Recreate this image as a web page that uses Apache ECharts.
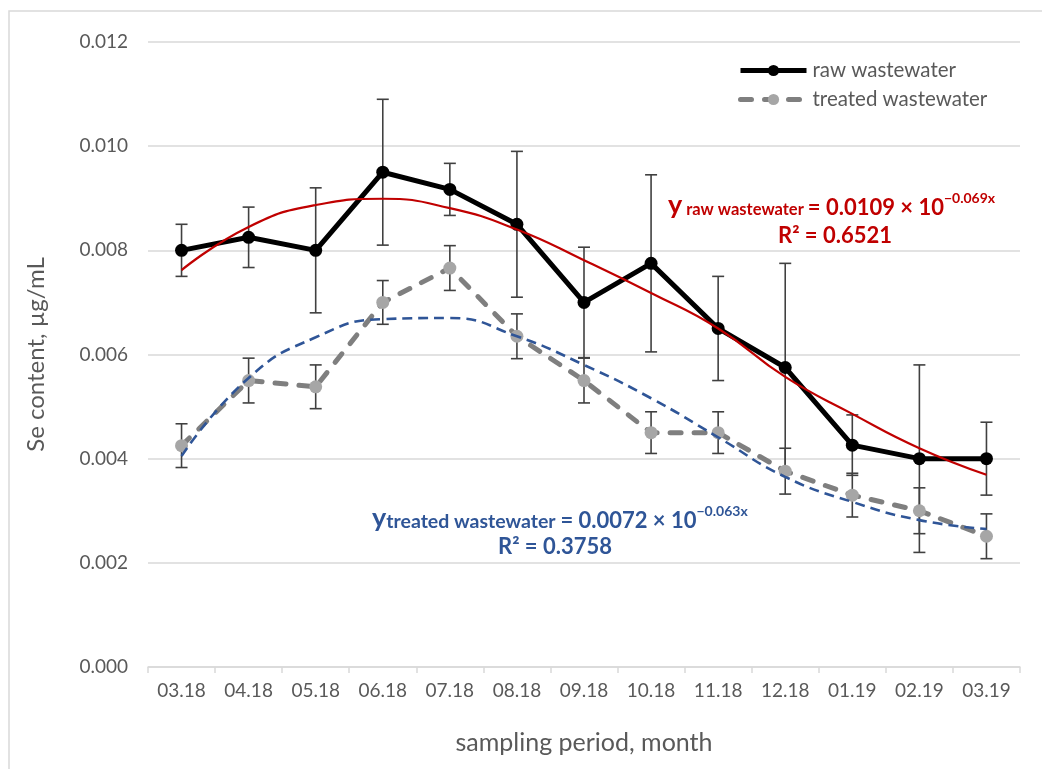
<!DOCTYPE html>
<html>
<head>
<meta charset="utf-8">
<script src="https://cdn.jsdelivr.net/npm/echarts@6/dist/echarts.min.js"></script>
<style>
  html, body { margin: 0; padding: 0; background: #fff; }
  #chart { width: 1042px; height: 769px; }
</style>
</head>
<body>
<div id="chart"></div>
<script>
// Sampling months
const months = ['03.18', '04.18', '05.18', '06.18', '07.18', '08.18', '09.18',
                '10.18', '11.18', '12.18', '01.19', '02.19', '03.19'];

// Se content in raw wastewater, µg/mL (mean and half error-bar length)
const rawMean = [0.0080, 0.00825, 0.0080, 0.0095, 0.00917, 0.0085, 0.0070,
                 0.00775, 0.0065, 0.00575, 0.00426, 0.0040, 0.0040];
const rawErr  = [0.0005, 0.00058, 0.0012, 0.0014, 0.0005, 0.0014, 0.00106,
                 0.0017, 0.0010, 0.0020, 0.00058, 0.0018, 0.0007];

// Se content in treated wastewater, µg/mL
const treatedMean = [0.00425, 0.0055, 0.00538, 0.0070, 0.00766, 0.00635, 0.0055,
                     0.0045, 0.0045, 0.00376, 0.0033, 0.0030, 0.00251];
const treatedErr  = [0.00042, 0.00043, 0.00042, 0.00042, 0.00043, 0.00043, 0.00043,
                     0.0004, 0.0004, 0.00044, 0.00042, 0.00044, 0.00043];

// Trend curves, read at each month
const rawTrend = [0.00762, 0.00845, 0.00887, 0.00899, 0.00881, 0.00840, 0.00781,
                  0.00718, 0.00650, 0.00557, 0.00486, 0.00420, 0.00369];
const treatedTrend = [0.00405, 0.00555, 0.00633, 0.00668, 0.00670, 0.00635, 0.00580,
                      0.00516, 0.00441, 0.00365, 0.00317, 0.00282, 0.00265];

// Y axis ticks
const yMin = 0, yMax = 0.012, yStep = 0.002;

const FONT = 'Lato';
const chart = echarts.init(document.getElementById('chart'), null, { renderer: 'canvas' });

function errorBars(means, errs, color) {
  return {
    type: 'custom',
    z: 1,
    silent: true,
    data: means.map((m, i) => [i, m, errs[i]]),
    renderItem: function (params, api) {
      const i = api.value(0), m = api.value(1), e = api.value(2);
      const top = api.coord([i, m + e]);
      const bot = api.coord([i, m - e]);
      const hw = 6;
      const style = { stroke: color, lineWidth: 1.6 };
      return {
        type: 'group',
        children: [
          { type: 'line', shape: { x1: top[0], y1: top[1], x2: bot[0], y2: bot[1] }, style },
          { type: 'line', shape: { x1: top[0] - hw, y1: top[1], x2: top[0] + hw, y2: top[1] }, style },
          { type: 'line', shape: { x1: bot[0] - hw, y1: bot[1], x2: bot[0] + hw, y2: bot[1] }, style }
        ]
      };
    }
  };
}

function equationRich(color, subSize) {
  const base = { fontFamily: FONT, fontWeight: 'bold', fill: color, lineHeight: 27, verticalAlign: 'bottom' };
  return {
    y:   Object.assign({}, base, { fontSize: 27 }),
    sub: Object.assign({}, base, { fontSize: subSize }),
    eq:  Object.assign({}, base, { fontSize: 22 }),
    sup: Object.assign({}, base, { fontSize: 14, verticalAlign: 'top' })
  };
}

const option = {
  backgroundColor: '#ffffff',
  animation: false,
  grid: { left: 148, right: 22, top: 42, bottom: 102 },
  legend: {
    data: [
      { name: 'raw wastewater', lineStyle: { width: 5, color: '#000000' } },
      { name: 'treated wastewater', lineStyle: { width: 5, color: '#7f7f7f', type: [11, 13], cap: 'round' } }
    ],
    orient: 'vertical',
    left: 733,
    top: 55,
    itemWidth: 66,
    itemHeight: 14,
    itemGap: 8,
    textStyle: { fontFamily: FONT, fontSize: 20.5, color: '#595959', padding: [0, 0, 0, 1] }
  },
  xAxis: {
    type: 'category',
    data: months,
    boundaryGap: true,
    name: 'sampling period, month',
    nameLocation: 'middle',
    nameGap: 63,
    nameTextStyle: { fontFamily: FONT, fontSize: 25, color: '#595959' },
    axisLine: { lineStyle: { color: '#d9d9d9', width: 1.5 } },
    axisTick: { show: true, length: 6, lineStyle: { color: '#d9d9d9', width: 1.5 } },
    axisLabel: { fontFamily: FONT, fontSize: 19, color: '#595959', margin: 14 },
    splitLine: { show: false }
  },
  yAxis: {
    type: 'value',
    min: yMin,
    max: yMax,
    interval: yStep,
    name: 'Se content, µg/mL',
    nameLocation: 'middle',
    nameGap: 100,
    nameTextStyle: { fontFamily: FONT, fontSize: 24, color: '#595959' },
    axisLine: { show: false },
    axisTick: { show: false },
    axisLabel: {
      fontFamily: FONT, fontSize: 19, color: '#595959', margin: 20,
      formatter: v => v.toFixed(3)
    },
    splitLine: { lineStyle: { color: '#d9d9d9', width: 1.5 } }
  },
  series: [
    errorBars(rawMean, rawErr, '#404040'),
    errorBars(treatedMean, treatedErr, '#404040'),
    {
      name: 'raw wastewater',
      type: 'line',
      z: 3,
      data: rawMean,
      symbol: 'circle',
      symbolSize: 13,
      lineStyle: { color: '#000000', width: 5 },
      itemStyle: { color: '#000000' }
    },
    {
      name: 'treated wastewater',
      type: 'line',
      z: 3,
      data: treatedMean,
      symbol: 'circle',
      symbolSize: 13,
      lineStyle: { color: '#7f7f7f', width: 5, type: [11, 13], cap: 'round' },
      itemStyle: { color: '#a6a6a6' }
    },
    {
      name: 'raw trend',
      type: 'line',
      z: 5,
      data: rawTrend,
      smooth: 0.5,
      symbol: 'none',
      lineStyle: { color: '#c00000', width: 2.2 }
    },
    {
      name: 'treated trend',
      type: 'line',
      z: 5,
      data: treatedTrend,
      smooth: 0.5,
      symbol: 'none',
      lineStyle: { color: '#2f5597', width: 2.6, type: [10, 6] }
    }
  ],
  graphic: [
    {
      type: 'rect',
      silent: true,
      shape: { x: 9, y: 11, width: 1100, height: 800 },
      style: { fill: 'none', stroke: '#d9d9d9', lineWidth: 1.5 }
    },
    {
      type: 'text',
      x: 668, y: 205,
      style: {
        text: '{y|y}{sub| raw wastewater }{eq|= 0.0109 × 10}{sup|−0.069x}',
        verticalAlign: 'middle',
        rich: equationRich('#c00000', 16.5)
      }
    },
    {
      type: 'text',
      x: 835, y: 236,
      style: {
        text: 'R² = 0.6521',
        align: 'center', verticalAlign: 'middle',
        fontFamily: FONT, fontSize: 22, fontWeight: 'bold', fill: '#c00000'
      }
    },
    {
      type: 'text',
      x: 372, y: 518,
      style: {
        text: '{y|y}{sub|treated wastewater }{eq|= 0.0072 × 10}{sup|−0.063x}',
        verticalAlign: 'middle',
        rich: equationRich('#2f5597', 19.5)
      }
    },
    {
      type: 'text',
      x: 555, y: 547,
      style: {
        text: 'R² = 0.3758',
        align: 'center', verticalAlign: 'middle',
        fontFamily: FONT, fontSize: 22, fontWeight: 'bold', fill: '#2f5597'
      }
    }
  ]
};

chart.setOption(option);
</script>
</body>
</html>
